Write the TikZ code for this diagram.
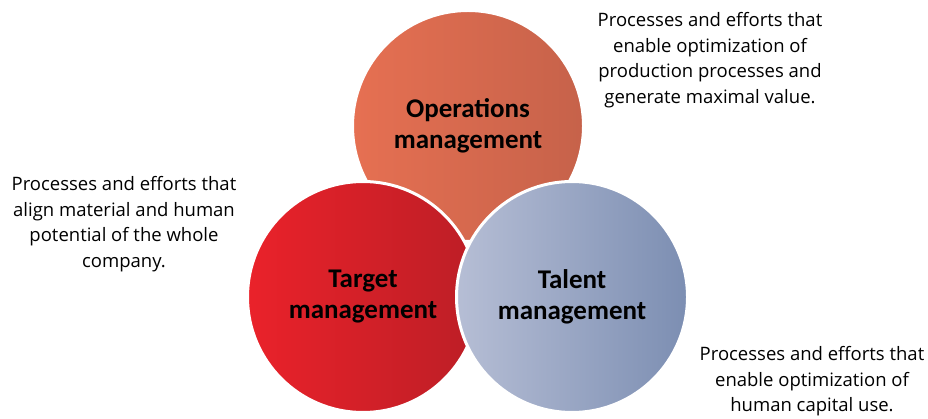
\documentclass[tikz,border=0pt]{standalone}
\usepackage{fontspec}
\setmainfont{Carlito}
\newfontfamily\descfont{Open Sans}
\begin{document}
\begin{tikzpicture}[x=1pt,y=1pt,
  circ/.style={circle, draw=white, line width=3pt, minimum size=231pt, inner sep=0pt,
    align=center, font=\fontsize{27}{31}\selectfont\bfseries, text=black},
  desc/.style={align=center, font=\descfont\fontsize{18.5}{25.7}\selectfont, text=black, inner sep=0pt}]
\definecolor{opL}{RGB}{230,112,82}
\definecolor{opR}{RGB}{198,98,74}
\definecolor{tgL}{RGB}{234,34,42}
\definecolor{tgR}{RGB}{188,30,38}
\definecolor{taL}{RGB}{182,190,213}
\definecolor{taR}{RGB}{124,142,178}
\useasboundingbox (0,0) rectangle (928,418);
\node[circ, left color=opL, right color=opR] (ops) at (468,292) {Operations\\management};
\node[circ, left color=tgL, right color=tgR] (tgt) at (363,121) {Target\\management};
\node[circ, left color=taL, right color=taR] (tal) at (572,121) {Talent\\management};
\node[desc, anchor=north] (d1) at (710,406) {Processes and efforts that\\enable optimization of\\production processes and\\generate maximal value.};
\node[desc, anchor=north] (d2) at (124,242) {Processes and efforts that\\align material and human\\potential of the whole\\company.};
\node[desc, anchor=north] (d3) at (812,72) {Processes and efforts that\\enable optimization of\\human capital use.};
\end{tikzpicture}
\end{document}
